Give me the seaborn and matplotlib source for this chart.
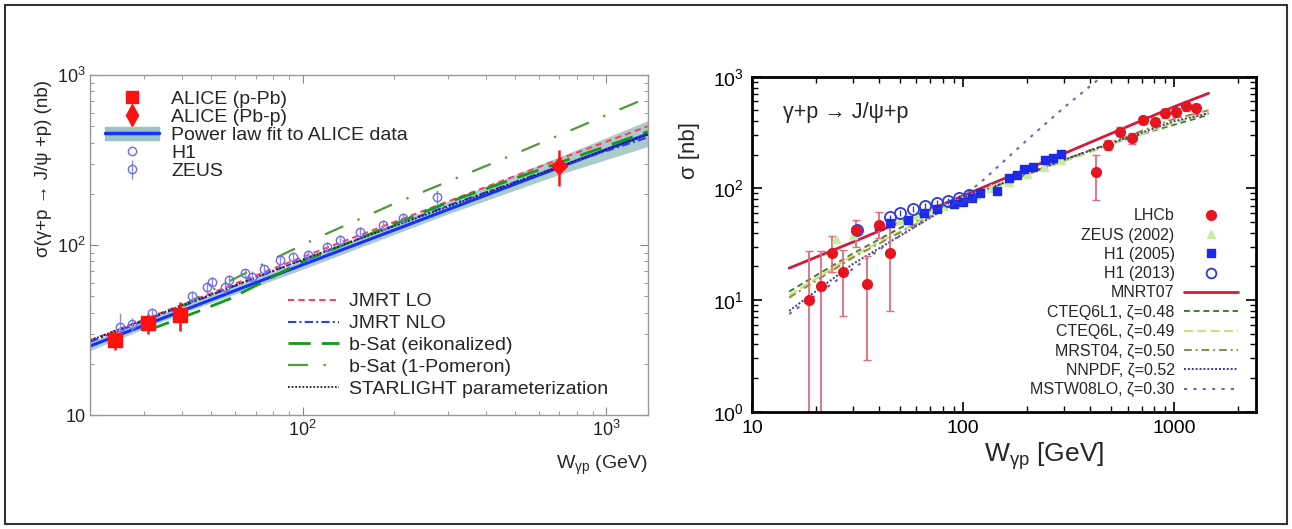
import matplotlib
matplotlib.use("Agg")
import matplotlib.pyplot as plt
import seaborn as sns
from matplotlib.lines import Line2D
from matplotlib.patches import Patch, Rectangle

# ---------------- left panel data ----------------
alice_ppb_w = [24.1, 31.0, 39.5]
alice_ppb_s = [27.6, 34.6, 38.7]
alice_ppb_err = [3.6, 4.5, 7.5]
alice_pbp_w = [700]
alice_pbp_s = [292]
alice_pbp_err = [70]

h1_w = [25.1, 31.9, 43.3, 50.3, 57.1, 64.7, 74.4, 93.1, 120, 154, 214]
h1_s = [33.0, 39.6, 50.1, 60.8, 62.2, 68.2, 71.9, 85.4, 97.7, 120, 144]
h1_err = [7.0, 3.0, 3.5, 4.0, 4.0, 4.5, 4.5, 5.5, 6.5, 8.0, 10.0]
zeus_w = [27.4, 48.5, 55.6, 68.1, 84.2, 104, 133, 184, 276]
zeus_s = [34.3, 56.4, 56.9, 65.2, 81.7, 87.3, 107, 131, 192]
zeus_err = [3.0, 4.5, 4.5, 5.0, 6.0, 6.5, 8.0, 10.0, 20.0]

fit_w = [20, 100, 500, 1370]
fit_s = [25.5, 76.5, 228, 451]
band_w = [20, 40, 100, 300, 700, 1370]
band_lo = [24.0, 39.5, 72.0, 152, 260, 380]
band_hi = [27.0, 44.0, 81.0, 180, 330, 540]

jmrt_lo_w = [20, 40, 100, 300, 700, 1370]
jmrt_lo_s = [27.5, 44.5, 85, 180, 320, 500]
jmrt_nlo_w = [20, 40, 100, 300, 700, 1370]
jmrt_nlo_s = [27.0, 43.5, 82, 170, 290, 430]
bsat_eik_w = [31, 45, 58, 100, 300, 700, 1370]
bsat_eik_s = [31.5, 40.5, 48.5, 80, 178, 305, 465]
bsat_pom_w = [40, 77, 114, 200, 434, 800, 1370]
bsat_pom_s = [44, 80, 112, 175, 309, 490, 738]
starlight_w = [20, 40, 100, 300, 700, 1370]
starlight_s = [27.5, 44.0, 82, 168, 290, 445]

# ---------------- right panel data ----------------
lhcb_w = [18.7, 21.2, 23.9, 27.0, 31.0, 35.0, 39.8, 45.0,
          427, 485, 551, 626, 711, 808, 900, 1020, 1130, 1270]
lhcb_s = [10.0, 13.4, 26.5, 17.9, 42.5, 13.9, 47.0, 26.5,
          141, 244, 322, 281, 409, 395, 470, 480, 545, 520]
lhcb_lo = [9.5, 12.9, 8.5, 10.7, 12.5, 11.0, 11.0, 18.6,
           62, 25, 30, 30, 35, 35, 40, 45, 50, 55]
lhcb_hi = [17.7, 14.3, 11.0, 10.0, 9.5, 11.0, 14.8, 18.5,
           58, 25, 30, 30, 35, 35, 40, 45, 50, 55]

zeus02_w = [25, 30, 40, 50, 60, 70, 80, 90, 100, 115, 135, 165, 200, 240, 290]
zeus02_s = [35, 38, 46, 52, 58, 64, 70, 75, 80, 88, 100, 115, 135, 155, 180]

h105_w = [40, 45, 55, 65, 75, 90, 100, 110, 120, 145, 165, 180, 195, 215, 245, 265, 290]
h105_s = [46, 49, 52, 60, 65, 72, 76, 82, 90, 95, 123, 132, 150, 157, 178, 186, 205]
h113_w = [31.5, 45, 50, 58, 66, 75, 85, 96, 107]
h113_s = [42, 55, 60, 66, 70, 74, 77, 82, 87]

mnrt_w = [15, 30, 100, 300, 1000, 1450]
mnrt_s = [19.3, 33, 86, 205, 540, 710]
cteq6l1_w = [15, 20, 30, 50, 100, 200, 400, 800, 1450]
cteq6l1_s = [11.9, 16.5, 26, 44, 80, 135, 220, 330, 455]
cteq6l_w = [15, 30, 100, 300, 1000, 1450]
cteq6l_s = [11.0, 25, 80, 175, 390, 470]
mrst_w = [15, 30, 100, 300, 1000, 1450]
mrst_s = [10.5, 24, 80, 180, 420, 500]
nnpdf_w = [15, 30, 100, 300, 1000, 1450]
nnpdf_s = [8.0, 21, 82, 180, 400, 470]
mstw_w = [15, 20, 30, 45, 70, 100, 124, 200, 300, 452]
mstw_s = [7.5, 11, 19, 33, 55, 85, 118, 270, 530, 1000]

# ---------------- style ----------------
sns.set_theme(style="ticks")
plt.rcParams['font.family'] = ['Liberation Sans', 'DejaVu Sans']
plt.rcParams['mathtext.fontset'] = 'custom'
plt.rcParams['mathtext.rm'] = 'Liberation Sans'
plt.rcParams['mathtext.it'] = 'Liberation Sans:italic'
plt.rcParams['mathtext.bf'] = 'Liberation Sans:bold'

fig = plt.figure(figsize=(12.92, 5.29), dpi=100)
fig.add_artist(Rectangle((0.004, 0.009), 0.992, 0.981, transform=fig.transFigure,
                         fill=False, lw=1.5, ec='#333333'))


def curve(ax, w, s, color, ls, lw):
    sns.lineplot(x=w, y=s, ax=ax, color=color, linestyle=ls, lw=lw,
                 estimator=None, sort=False)
    return ax.lines[-1]


# ================= left panel =================
axl = fig.add_axes([0.0699, 0.2155, 0.4316, 0.6427])
axl.set_xscale('log')
axl.set_yscale('log')

axl.fill_between(band_w, band_lo, band_hi, color='#9cc3c3', alpha=0.85, lw=0)
curve(axl, fit_w, fit_s, '#1530ff', '-', 2.2)
l_jlo = curve(axl, jmrt_lo_w, jmrt_lo_s, '#ff4060', (0, (3, 2)), 1.5)
l_jnlo = curve(axl, jmrt_nlo_w, jmrt_nlo_s, '#3040f0', (0, (4, 1.5, 1, 1.5)), 1.5)
l_eik = curve(axl, bsat_eik_w, bsat_eik_s, '#139a1a', (0, (8, 4)), 2.0)
l_pom = curve(axl, bsat_pom_w, bsat_pom_s, '#4f9a3a', (0, (9, 7, 1, 7)), 1.6)
l_star = curve(axl, starlight_w, starlight_s, '#222222', (0, (1, 1)), 1.3)

axl.errorbar(h1_w, h1_s, yerr=h1_err, fmt='o', ms=6, mfc='none', mec='#6b6bf0',
             ecolor='#8a8af5', mew=1.0, elinewidth=1.0)
zeusl = axl.errorbar(zeus_w, zeus_s, yerr=zeus_err, fmt='o', ms=6, mfc='none', mec='#6b6bf0',
                     ecolor='#8a8af5', mew=1.0, elinewidth=1.0)
axl.errorbar(alice_ppb_w, alice_ppb_s, yerr=alice_ppb_err,
             xerr=[[1.0, 1.3, 1.6], [1.0, 1.3, 1.6]], fmt='s', ms=10,
             color='#ff1010', elinewidth=1.8)
axl.errorbar(alice_pbp_w, alice_pbp_s, yerr=alice_pbp_err, xerr=[[25], [25]],
             fmt='D', ms=8, color='#ff1010', elinewidth=1.8)

axl.set_xlim(20, 1370)
axl.set_ylim(10, 1000)
axl.set_xticks([100, 1000], labels=['$10^2$', '$10^3$'])
axl.set_yticks([10, 100, 1000], labels=['10', '$10^2$', '$10^3$'])
axl.tick_params(which='both', direction='in', top=True, right=True, colors='#888888',
                labelcolor='#222222', labelsize=13)
axl.tick_params(which='major', length=6, width=0.8)
axl.tick_params(which='minor', length=3, width=0.6)
for sp in axl.spines.values():
    sp.set_color('#999999')
    sp.set_linewidth(1.0)
axl.set_xlabel('W$_{\\mathregular{γp}}$ (GeV)', fontsize=14, loc='right')
axl.xaxis.set_label_coords(1.0, -0.115)
axl.set_ylabel('σ(γ+p → J/ψ +p) (nb)', fontsize=13.5, loc='top')
axl.yaxis.set_label_coords(-0.069, 0.985)

h_ppb = Line2D([], [], marker='s', ls='none', color='#ff1010', ms=9)
h_pbp = Line2D([], [], marker='d', ls='none', color='#ff1010', ms=11)
h_fit = (Patch(color='#9cc3c3'), Line2D([], [], color='#1530ff', lw=2.5))
h_h1 = Line2D([], [], marker='o', ls='none', mfc='none', mec='#6b6bf0', ms=6, mew=1.0)
leg1 = axl.legend(
    [h_ppb, h_pbp, h_fit, h_h1, zeusl],
    ['ALICE (p-Pb)', 'ALICE (Pb-p)', 'Power law fit to ALICE data', 'H1', 'ZEUS'],
    loc='upper left', bbox_to_anchor=(0.012, 0.977), frameon=False, fontsize=14,
    handlelength=2.8, handletextpad=0.6, labelspacing=0.02, borderaxespad=0)
axl.add_artist(leg1)
axl.legend([l_jlo, l_jnlo, l_eik, l_pom, l_star],
           ['JMRT LO', 'JMRT NLO', 'b-Sat (eikonalized)', 'b-Sat (1-Pomeron)',
            'STARLIGHT parameterization'],
           loc='lower left', bbox_to_anchor=(0.341, 0.027), frameon=False, fontsize=14,
           handlelength=2.6, handletextpad=0.55, labelspacing=0.22, borderaxespad=0)

# ================= right panel =================
axr = fig.add_axes([0.582, 0.2217, 0.3901, 0.6333])
axr.set_xscale('log')
axr.set_yscale('log')

axr.errorbar(zeus02_w, zeus02_s, yerr=[v * 0.08 for v in zeus02_s], fmt='^', ms=6,
             color='#c8eca0', ecolor='#dcf3c4', elinewidth=1.0)
l_mnrt = curve(axr, mnrt_w, mnrt_s, '#d01c38', '-', 2.0)
l_c1 = curve(axr, cteq6l1_w, cteq6l1_s, '#3f7f2f', (0, (3, 2)), 1.4)
l_c2 = curve(axr, cteq6l_w, cteq6l_s, '#cfdc86', (0, (4, 2)), 1.6)
l_mr = curve(axr, mrst_w, mrst_s, '#8c8c34', (0, (4, 2, 1, 2)), 1.4)
l_nn = curve(axr, nnpdf_w, nnpdf_s, '#3a3a90', (0, (1, 1)), 1.4)
l_ms = curve(axr, mstw_w, mstw_s, '#7b5fae', (0, (1.5, 3)), 1.5)

axr.errorbar(h105_w, h105_s, yerr=[v * 0.05 for v in h105_s], fmt='s', ms=5.5,
             color='#1a2ae6', elinewidth=1.0)
axr.errorbar(h113_w, h113_s, yerr=[v * 0.06 for v in h113_s], fmt='o', ms=8,
             mfc='none', mec='#2b3ad8', ecolor='#2b3ad8', mew=1.3, elinewidth=1.0)
axr.errorbar(lhcb_w, lhcb_s, yerr=[lhcb_lo, lhcb_hi], fmt='o', ms=7, color='#e5141e',
             ecolor='#e46b7c', elinewidth=1.3, capsize=3, capthick=1.0)

axr.text(0.062, 0.892, 'γ+p → J/ψ+p', transform=axr.transAxes, fontsize=15.5,
         va='center', ha='left')

axr.set_xlim(10, 2430)
axr.set_ylim(1, 1000)
axr.set_xticks([10, 100, 1000], labels=['10', '100', '1000'])
axr.xaxis.set_minor_formatter(matplotlib.ticker.NullFormatter())
axr.tick_params(which='both', direction='in', top=True, right=True, colors='black',
                labelsize=14)
axr.tick_params(which='major', length=7, width=1.2, pad=6)
axr.tick_params(which='minor', length=4, width=1.0)
for sp in axr.spines.values():
    sp.set_color('black')
    sp.set_linewidth(2.0)
axr.set_xlabel('W$_{\\mathregular{γp}}$ [GeV]', fontsize=19)
axr.xaxis.set_label_coords(0.58, -0.085)
axr.set_ylabel('σ [nb]', fontsize=16)
axr.yaxis.set_label_coords(-0.103, 0.78)

handles_r = [
    Line2D([], [], marker='o', ls='none', color='#e5141e', ms=7),
    Line2D([], [], marker='^', ls='none', color='#c8eca0', ms=6),
    Line2D([], [], marker='s', ls='none', color='#1a2ae6', ms=5.5),
    Line2D([], [], marker='o', ls='none', mfc='none', mec='#2b3ad8', ms=7, mew=1.3),
    l_mnrt, l_c1, l_c2, l_mr, l_nn, l_ms,
]
labels_r = ['LHCb', 'ZEUS (2002)', 'H1 (2005)', 'H1 (2013)', 'MNRT07',
            'CTEQ6L1, ζ=0.48', 'CTEQ6L, ζ=0.49', 'MRST04, ζ=0.50',
            'NNPDF, ζ=0.52', 'MSTW08LO, ζ=0.30']
axr.legend(handles_r, labels_r, loc='lower right', bbox_to_anchor=(0.978, 0.024),
           frameon=False, fontsize=11.5, markerfirst=False, handlelength=3.4,
           handletextpad=0.6, labelspacing=0.27, borderaxespad=0)

fig.savefig('out.png', dpi=100)
plt.close(fig)
